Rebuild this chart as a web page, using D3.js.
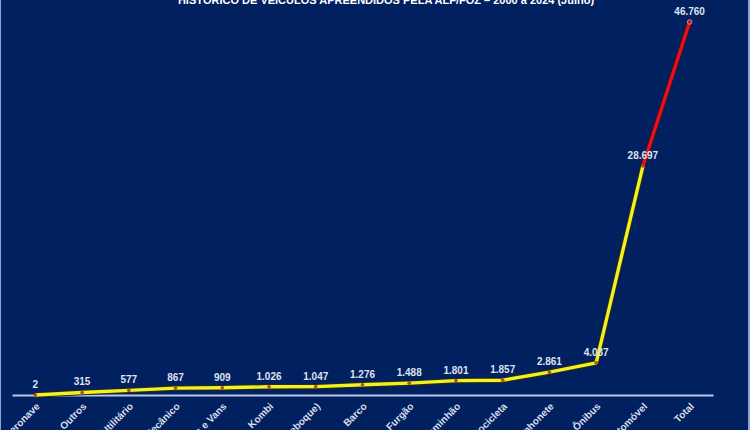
<!DOCTYPE html>
<html>
<head>
<meta charset="utf-8">
<script src="https://cdn.jsdelivr.net/npm/d3@7"></script>
<style>
  html, body { margin: 0; padding: 0; background: #012060; }
  svg { display: block; }
</style>
</head>
<body>
<svg id="chart" width="750" height="430"></svg>
<script>
// Veículos apreendidos por tipo, em ordem crescente, com o total ao final
const categories = [
  "Aeronave", "Outros", "Utilitário", "Veículo Mecânico", "Micro-ônibus e Vans",
  "Kombi", "Carreta (reboque)", "Barco", "Furgão", "Caminhão",
  "Motocicleta", "Caminhonete", "Ônibus", "Automóvel", "Total"
];
const values = [2, 315, 577, 867, 909, 1026, 1047, 1276, 1488, 1801, 1857, 2861, 4037, 28697, 46760];
const valueLabels = ["2", "315", "577", "867", "909", "1.026", "1.047", "1.276", "1.488", "1.801", "1.857", "2.861", "4.037", "28.697", "46.760"];
const title = "HISTÓRICO DE VEÍCULOS APREENDIDOS PELA ALF/FOZ – 2000 a 2024 (Julho)";

const W = 750, H = 430;
const svg = d3.select("#chart");

svg.append("rect").attr("width", W).attr("height", H).attr("fill", "#012060");
// thin light frame edges
svg.append("rect").attr("x", 0).attr("y", 0).attr("width", 1).attr("height", H).attr("fill", "#8ea3cf");
svg.append("rect").attr("x", 748).attr("y", 0).attr("width", 2).attr("height", H).attr("fill", "#8ea3cf");

const x = d3.scaleBand().domain(categories).range([12, 713]);
const y = d3.scaleLinear().domain([0, 50000]).range([395, -3.9]);
const cx = d => x(d) + x.bandwidth() / 2;

// title
svg.append("text")
  .attr("x", 386).attr("y", 4)
  .attr("text-anchor", "middle")
  .attr("font-family", "Liberation Sans, Arial, sans-serif")
  .attr("font-weight", "bold")
  .attr("font-size", 11)
  .attr("fill", "#ffffff")
  .text(title);

// category axis
const xAxis = svg.append("g").attr("transform", `translate(0,${y(0)})`)
  .call(d3.axisBottom(x).tickSize(0).tickSizeOuter(0));
xAxis.select(".domain").attr("stroke", "#b9c8e8").attr("stroke-width", 2.2);
xAxis.selectAll(".tick text")
  .attr("font-family", "Liberation Sans, Arial, sans-serif")
  .attr("font-weight", "bold")
  .attr("font-size", 10)
  .attr("fill", "#d9deea")
  .attr("text-anchor", "end")
  .attr("dy", 0)
  .attr("y", 0)
  .attr("transform", "translate(5,12) rotate(-45)");

const pts = categories.map((c, i) => ({ c, v: values[i], label: valueLabels[i] }));
const line = d3.line().x(d => cx(d.c)).y(d => y(d.v));
const main = pts.slice(0, pts.length - 1);
const last = pts.slice(pts.length - 2);

// yellow series with dark outline
svg.append("path").datum(main).attr("d", line)
  .attr("fill", "none").attr("stroke", "#2b2a12").attr("stroke-width", 5.5)
  .attr("stroke-linejoin", "round");
svg.append("path").datum(main).attr("d", line)
  .attr("fill", "none").attr("stroke", "#eef226").attr("stroke-width", 3.4)
  .attr("stroke-linejoin", "round");

// red segment up to the total
svg.append("path").datum(last).attr("d", line)
  .attr("fill", "none").attr("stroke", "#5a0a12").attr("stroke-width", 5);
svg.append("path").datum(last).attr("d", line)
  .attr("fill", "none").attr("stroke", "#e3121f").attr("stroke-width", 3.2);

// markers
svg.selectAll("circle.pt").data(pts).join("circle")
  .attr("class", "pt")
  .attr("cx", d => cx(d.c)).attr("cy", d => y(d.v))
  .attr("r", (d, i) => i === pts.length - 1 ? 2.3 : 1.8)
  .attr("fill", (d, i) => i === pts.length - 1 ? "#c8102e" : "#a3502a")
  .attr("stroke", (d, i) => i === pts.length - 1 ? "#f09aa8" : "none")
  .attr("stroke-width", 0.8);

// value labels
svg.selectAll("text.val").data(pts).join("text")
  .attr("class", "val")
  .attr("x", d => cx(d.c)).attr("y", d => y(d.v) - 7)
  .attr("text-anchor", "middle")
  .attr("font-family", "Liberation Sans, Arial, sans-serif")
  .attr("font-weight", "bold")
  .attr("font-size", 10)
  .attr("fill", "#dfe3ee")
  .text(d => d.label);
</script>
</body>
</html>
